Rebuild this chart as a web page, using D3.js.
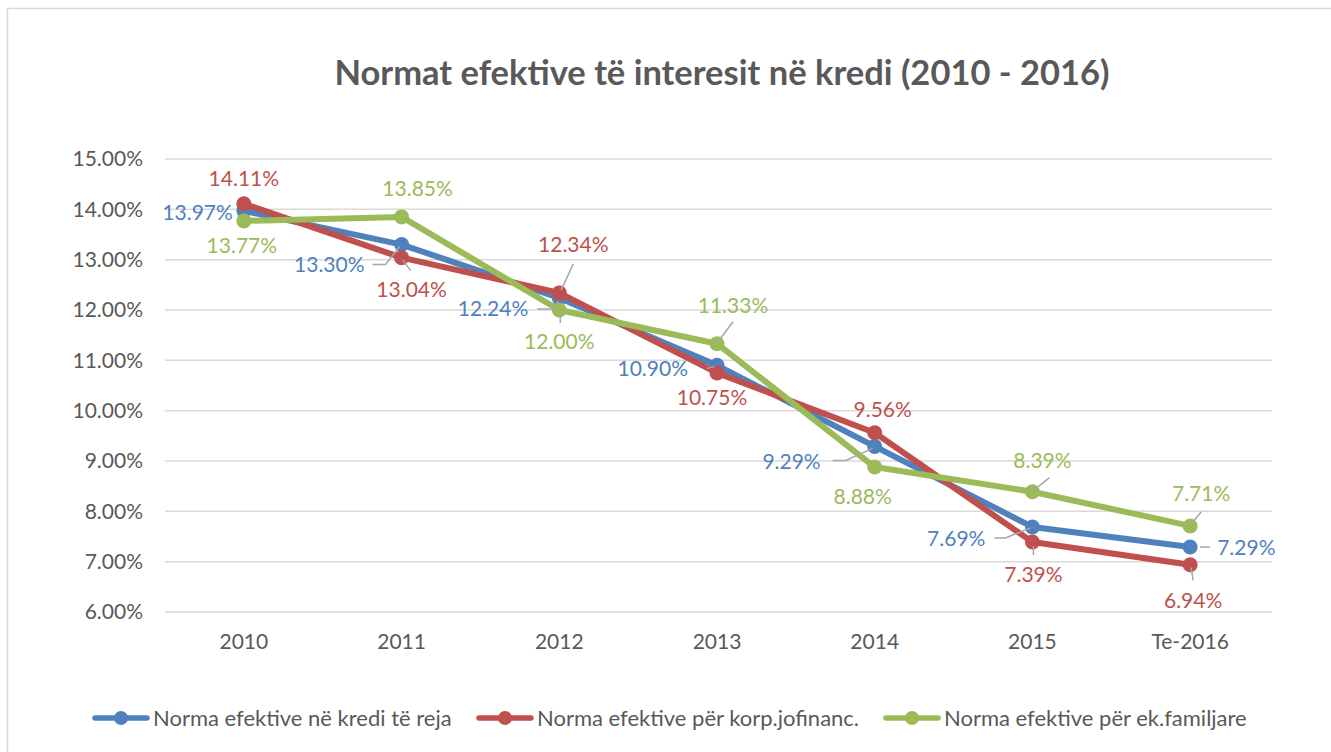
<!DOCTYPE html>
<html>
<head>
<meta charset="utf-8">
<script src="https://cdn.jsdelivr.net/npm/d3@7"></script>
<style>
  html, body { margin: 0; padding: 0; background: #fff; }
  svg { display: block; font-family: Lato, "Open Sans", sans-serif; }
</style>
</head>
<body>
<svg id="chart" width="1331" height="752"></svg>
<script>
// ---- Data ----
const categories = ["2010", "2011", "2012", "2013", "2014", "2015", "Te-2016"];
const seriesNames = [
  "Norma efektive në kredi të reja",
  "Norma efektive për korp.jofinanc.",
  "Norma efektive për ek.familjare"
];
const newLoans = [13.97, 13.30, 12.24, 10.90, 9.29, 7.69, 7.29];
const corporate = [14.11, 13.04, 12.34, 10.75, 9.56, 7.39, 6.94];
const households = [13.77, 13.85, 12.00, 11.33, 8.88, 8.39, 7.71];
const yTicks = [6, 7, 8, 9, 10, 11, 12, 13, 14, 15];
const title = "Normat efektive të interesit në kredi (2010 - 2016)";

// ---- Label placement (offsets from each point, px) ----
const labelOffsets = [
  [[-11, 2, "end"], [-37, 20, "end"], [-31, 11, "end"], [-29, 3, "end"], [-54, 15, "end"], [-47, 12, "end"], [27, 1, "start"]],
  [[0, -25, "middle"], [10, 32, "middle"], [14, -48, "middle"], [-5, 25, "middle"], [8, -23, "middle"], [1, 33, "middle"], [3, 36, "middle"]],
  [[-2, 25, "middle"], [16, -28, "middle"], [0, 32, "middle"], [16, -38, "middle"], [-12, 30, "middle"], [10, -31, "middle"], [11, -32, "middle"]]
];
const leaders = [
  [null, [[-29, 20], [-16, 20], [-2, 2]], [[-22, 11], [-7, 11], [-1, 3]], [[-10, 3], [-2, 1]], [[-42, 14], [-29, 14], [-2, 2]], [[-38, 11], [-27, 11], [-2, 1]], [[10, 0], [20, 0]]],
  [null, [[1, 2], [9, 13]], [[2, -3], [14, -29]], null, null, [[1, 4], [1, 13]], [[1, 3], [3, 16]]],
  [null, null, [[1, 4], [1, 13]], [[1, -2], [16, -22]], null, [[1, -1], [17, -14]], [[1, -2], [11, -14]]]
];

const colors = ["#4f81bd", "#c0504d", "#9bbb59"];
const series = [newLoans, corporate, households];

// ---- Layout ----
const svg = d3.select("#chart");
const plot = { left: 165, right: 1269, top: 159, bottom: 612 };

svg.append("rect")
  .attr("x", 7.5).attr("y", 8.5).attr("width", 1340).attr("height", 760)
  .attr("fill", "none").attr("stroke", "#d9d9d9").attr("stroke-width", 1.5);

const x = d3.scaleBand().domain(categories).range([plot.left, plot.right]);
const y = d3.scaleLinear().domain([6, 15]).range([plot.bottom, plot.top]);
const cx = c => x(c) + x.bandwidth() / 2;

// gridlines
svg.append("g").selectAll("line").data(yTicks).join("line")
  .attr("x1", plot.left).attr("x2", plot.right + 3)
  .attr("y1", d => y(d)).attr("y2", d => y(d))
  .attr("stroke", "#d9d9d9").attr("stroke-width", 1.5);

// y axis labels
const yAxis = d3.axisLeft(y).tickValues(yTicks).tickFormat(d => d.toFixed(2) + "%").tickSize(0).tickPadding(22);
const gy = svg.append("g").attr("transform", `translate(${plot.left},0)`).call(yAxis);
gy.select(".domain").remove();
gy.selectAll("text").attr("fill", "#595959").style("font-size", "21px").style("font-family", "Lato, sans-serif");

// x axis labels
const xAxis = d3.axisBottom(x).tickSize(0).tickPadding(22);
const gx = svg.append("g").attr("transform", `translate(0,${plot.bottom})`).call(xAxis);
gx.select(".domain").remove();
gx.selectAll("text").attr("fill", "#595959").style("font-size", "21px").style("font-family", "Lato, sans-serif");

// title
svg.append("text")
  .attr("x", 722).attr("y", 85).attr("text-anchor", "middle")
  .attr("fill", "#595959").style("font-size", "34.5px").style("font-weight", "bold")
  .text(title);

// lines
const line = d3.line().x((d, i) => cx(categories[i])).y(d => y(d));
series.forEach((s, si) => {
  svg.append("path").datum(s)
    .attr("d", line).attr("fill", "none")
    .attr("stroke", colors[si]).attr("stroke-width", 6)
    .attr("stroke-linejoin", "round").attr("stroke-linecap", "round");
  svg.append("g").selectAll("circle").data(s).join("circle")
    .attr("cx", (d, i) => cx(categories[i])).attr("cy", d => y(d))
    .attr("r", 7.5).attr("fill", colors[si]);
});

// leader lines
series.forEach((s, si) => {
  s.forEach((v, i) => {
    const L = leaders[si][i];
    if (!L) return;
    const px = cx(categories[i]), py = y(v);
    svg.append("polyline")
      .attr("points", L.map(p => `${px + p[0]},${py + p[1]}`).join(" "))
      .attr("fill", "none").attr("stroke", "#a6a6a6").attr("stroke-width", 1.5);
  });
});

// data labels
series.forEach((s, si) => {
  svg.append("g").selectAll("text").data(s).join("text")
    .attr("x", (d, i) => cx(categories[i]) + labelOffsets[si][i][0])
    .attr("y", (d, i) => y(d) + labelOffsets[si][i][1])
    .attr("dy", "0.35em")
    .attr("text-anchor", (d, i) => labelOffsets[si][i][2])
    .attr("fill", colors[si])
    .style("font-size", "21px")
    .text(d => d.toFixed(2) + "%");
});

// legend
const legendX = [93, 477, 884];
const lg = svg.append("g");
seriesNames.forEach((name, i) => {
  const g = lg.append("g").attr("transform", `translate(${legendX[i]},718)`);
  g.append("line").attr("x1", 2).attr("x2", 54).attr("y1", 0).attr("y2", 0)
    .attr("stroke", colors[i]).attr("stroke-width", 5.5).attr("stroke-linecap", "round");
  g.append("circle").attr("cx", 28).attr("cy", 0).attr("r", 7).attr("fill", colors[i]);
  g.append("text").attr("x", 60).attr("y", 0).attr("dy", "0.35em")
    .attr("fill", "#595959").style("font-size", "22px").text(name);
});
</script>
</body>
</html>
